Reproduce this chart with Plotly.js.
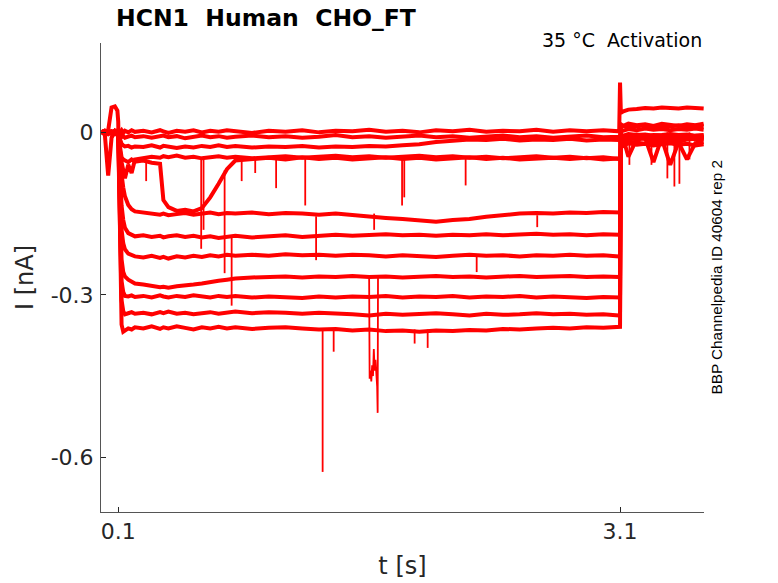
<!DOCTYPE html>
<html>
<head>
<meta charset="utf-8">
<script src="https://cdn.plot.ly/plotly-3.0.1.min.js"></script>
<style>
  html, body { margin: 0; padding: 0; background: #fff; }
  #plot { width: 778px; height: 583px; }
</style>
</head>
<body>
<div id="plot"></div>
<script>
// temps (s) commun a tous les sweeps
const tGrid = [0, 0.02, 0.04, 0.06, 0.08, 0.095, 0.1, 0.105, 0.11, 0.115,
  0.12, 0.13, 0.14, 0.16, 0.18, 0.2, 0.25, 0.3, 0.35, 0.37,
  0.4, 0.45, 0.5, 0.55, 0.6, 0.65, 0.7, 0.75, 0.8, 0.9,
  1.0, 1.1, 1.2, 1.3, 1.4, 1.5, 1.6, 1.7, 1.8, 1.9,
  2.0, 2.1, 2.2, 2.3, 2.4, 2.5, 2.6, 2.7, 2.8, 2.9,
  3.0, 3.095, 3.1, 3.105, 3.12, 3.15, 3.2, 3.25, 3.3, 3.35,
  3.4, 3.45, 3.5, 3.55, 3.6];

// courant (nA) de chaque sweep
const iT1 = [0.003, -0.002, 0.004, 0.046, 0.048, 0.040, 0.020, -0.100, -0.240, -0.320,
  -0.355, -0.368, -0.366, -0.362, -0.364, -0.360, -0.362, -0.358, -0.363, -0.360,
  -0.362, -0.358, -0.361, -0.364, -0.360, -0.362, -0.359, -0.362, -0.360, -0.363,
  -0.361, -0.360, -0.362, -0.364, -0.363, -0.366, -0.364, -0.367, -0.366, -0.368,
  -0.366, -0.367, -0.365, -0.366, -0.363, -0.364, -0.362, -0.361, -0.362, -0.360,
  -0.361, -0.359, -0.359, -0.005, -0.008, -0.006, -0.004, -0.007, -0.005, -0.006,
  -0.004, -0.006, -0.005, -0.007, -0.006];
const iT2 = [-0.002, 0.003, -0.001, 0.002, -0.003, 0.001, 0.000, -0.090, -0.200, -0.270,
  -0.310, -0.330, -0.336, -0.334, -0.332, -0.335, -0.333, -0.336, -0.332, -0.334,
  -0.331, -0.335, -0.333, -0.336, -0.334, -0.332, -0.335, -0.333, -0.331, -0.334,
  -0.332, -0.333, -0.335, -0.333, -0.334, -0.336, -0.338, -0.335, -0.337, -0.336,
  -0.334, -0.336, -0.338, -0.335, -0.337, -0.336, -0.334, -0.336, -0.335, -0.337,
  -0.336, -0.338, -0.338, -0.012, -0.015, -0.010, -0.013, -0.011, -0.014, -0.012,
  -0.060, -0.018, -0.013, -0.012, -0.013];
const iT3 = [0.001, -0.003, 0.002, -0.001, 0.003, -0.002, -0.001, -0.080, -0.180, -0.240,
  -0.275, -0.295, -0.302, -0.303, -0.301, -0.304, -0.302, -0.305, -0.301, -0.303,
  -0.305, -0.302, -0.304, -0.301, -0.303, -0.305, -0.302, -0.304, -0.302, -0.305,
  -0.303, -0.304, -0.306, -0.303, -0.305, -0.303, -0.304, -0.302, -0.305, -0.303,
  -0.304, -0.302, -0.305, -0.303, -0.304, -0.302, -0.305, -0.303, -0.304, -0.306,
  -0.304, -0.305, -0.305, -0.010, -0.012, -0.045, -0.012, -0.009, -0.011, -0.010,
  -0.012, -0.009, -0.011, -0.010, -0.012];
const iT4 = [-0.003, 0.002, -0.002, 0.001, -0.001, 0.003, 0.000, -0.060, -0.140, -0.200,
  -0.235, -0.258, -0.266, -0.272, -0.276, -0.279, -0.281, -0.284, -0.286, -0.285,
  -0.287, -0.284, -0.283, -0.281, -0.279, -0.276, -0.274, -0.272, -0.270, -0.268,
  -0.267, -0.266, -0.268, -0.266, -0.267, -0.265, -0.267, -0.266, -0.268, -0.266,
  -0.265, -0.267, -0.266, -0.268, -0.266, -0.265, -0.267, -0.266, -0.265, -0.267,
  -0.266, -0.267, -0.267, -0.004, -0.006, -0.003, -0.005, -0.004, -0.006, -0.005,
  -0.003, -0.005, -0.004, -0.006, -0.005];
const iT5 = [0.002, -0.001, 0.003, -0.002, 0.002, -0.001, 0.000, -0.045, -0.100, -0.150,
  -0.180, -0.205, -0.216, -0.224, -0.227, -0.229, -0.231, -0.228, -0.232, -0.230,
  -0.233, -0.229, -0.231, -0.228, -0.230, -0.227, -0.229, -0.226, -0.228, -0.226,
  -0.228, -0.225, -0.227, -0.226, -0.228, -0.226, -0.227, -0.229, -0.227, -0.228,
  -0.230, -0.228, -0.226, -0.228, -0.227, -0.229, -0.227, -0.228, -0.226, -0.228,
  -0.227, -0.229, -0.229, -0.008, -0.010, -0.007, -0.009, -0.010, -0.055, -0.009,
  -0.008, -0.010, -0.009, -0.007, -0.009];
const iT6 = [-0.001, 0.002, -0.003, 0.001, -0.002, 0.002, 0.000, -0.035, -0.075, -0.110,
  -0.135, -0.162, -0.176, -0.186, -0.190, -0.192, -0.190, -0.193, -0.191, -0.194,
  -0.192, -0.190, -0.193, -0.191, -0.194, -0.192, -0.195, -0.193, -0.191, -0.194,
  -0.192, -0.190, -0.193, -0.191, -0.189, -0.191, -0.190, -0.188, -0.190, -0.189,
  -0.191, -0.189, -0.190, -0.188, -0.190, -0.189, -0.187, -0.189, -0.188, -0.190,
  -0.188, -0.189, -0.189, 0.005, 0.003, 0.006, 0.004, 0.007, 0.005, 0.006,
  0.004, 0.006, 0.005, 0.007, 0.005];
const iT7 = [0.001, 0.003, -0.002, 0.002, 0.000, -0.002, -0.003, -0.020, -0.042, -0.062,
  -0.078, -0.102, -0.118, -0.134, -0.142, -0.146, -0.148, -0.150, -0.152, -0.150,
  -0.153, -0.151, -0.149, -0.152, -0.150, -0.148, -0.151, -0.149, -0.150, -0.148,
  -0.151, -0.149, -0.150, -0.152, -0.150, -0.153, -0.155, -0.158, -0.160, -0.163,
  -0.165, -0.162, -0.160, -0.156, -0.153, -0.150, -0.149, -0.150, -0.148, -0.149,
  -0.147, -0.148, -0.148, 0.010, 0.012, 0.009, 0.011, 0.013, 0.010, 0.012,
  0.011, 0.013, 0.010, 0.012, 0.011];
const iT8 = [0.000, -0.003, 0.002, -0.002, 0.003, 0.000, -0.002, -0.015, -0.030, -0.040,
  -0.046, -0.050, -0.052, -0.055, -0.050, -0.054, -0.052, -0.056, -0.058, -0.125,
  -0.138, -0.145, -0.143, -0.146, -0.140, -0.120, -0.095, -0.068, -0.052, -0.050,
  -0.047, -0.050, -0.046, -0.049, -0.047, -0.050, -0.048, -0.046, -0.049, -0.047,
  -0.050, -0.048, -0.046, -0.049, -0.047, -0.050, -0.048, -0.047, -0.049, -0.047,
  -0.050, -0.048, -0.048, -0.018, -0.020, -0.017, -0.019, -0.021, -0.018, -0.020,
  -0.017, -0.019, -0.050, -0.020, -0.018];
const iT9 = [0.002, -0.004, -0.080, -0.010, 0.002, -0.003, -0.005, -0.020, -0.035, -0.045,
  -0.055, -0.070, -0.085, -0.060, -0.075, -0.050, -0.048, -0.045, -0.047, -0.044,
  -0.046, -0.043, -0.047, -0.045, -0.048, -0.046, -0.044, -0.047, -0.045, -0.048,
  -0.046, -0.044, -0.047, -0.045, -0.043, -0.046, -0.044, -0.047, -0.045, -0.043,
  -0.046, -0.044, -0.047, -0.045, -0.048, -0.046, -0.044, -0.047, -0.045, -0.048,
  -0.046, -0.049, -0.049, -0.010, -0.013, -0.011, -0.009, -0.012, -0.010, -0.013,
  -0.011, -0.014, -0.012, -0.010, -0.011];
const iT10 = [0.001, -0.002, 0.003, 0.000, -0.003, 0.002, 0.001, 0.003, -0.002, 0.002,
  0.004, -0.001, 0.003, 0.000, 0.004, 0.001, 0.003, 0.000, 0.004, 0.002,
  -0.001, 0.003, 0.001, 0.004, 0.000, 0.003, 0.001, 0.004, 0.002, -0.001,
  0.003, 0.001, 0.004, 0.000, 0.003, 0.002, 0.005, 0.001, 0.003, 0.000,
  0.004, 0.002, 0.005, 0.001, 0.003, 0.002, 0.005, 0.001, 0.004, 0.002,
  0.004, 0.002, 0.092, 0.036, 0.039, 0.042, 0.043, 0.045, 0.044, 0.046,
  0.045, 0.044, 0.046, 0.045, 0.044];
const iT11 = [-0.002, 0.002, -0.003, 0.001, -0.001, 0.003, 0.000, -0.004, -0.007, -0.006,
  -0.009, -0.007, -0.010, -0.008, -0.006, -0.009, -0.007, -0.010, -0.008, -0.006,
  -0.009, -0.007, -0.011, -0.008, -0.006, -0.009, -0.007, -0.010, -0.008, -0.006,
  -0.009, -0.007, -0.010, -0.008, -0.005, -0.009, -0.007, -0.010, -0.008, -0.006,
  -0.009, -0.007, -0.010, -0.008, -0.006, -0.009, -0.007, -0.010, -0.008, -0.006,
  -0.009, -0.008, -0.008, 0.015, 0.012, 0.016, 0.013, 0.015, 0.012, 0.016,
  0.014, 0.012, 0.015, 0.013, 0.016];
const iT12 = [0.003, -0.001, 0.001, -0.003, 0.002, -0.001, -0.002, -0.008, -0.014, -0.018,
  -0.021, -0.024, -0.026, -0.025, -0.028, -0.026, -0.027, -0.024, -0.028, -0.025,
  -0.027, -0.029, -0.026, -0.028, -0.025, -0.027, -0.024, -0.027, -0.025, -0.028,
  -0.026, -0.027, -0.025, -0.028, -0.026, -0.027, -0.025, -0.026, -0.024, -0.022,
  -0.018, -0.015, -0.013, -0.014, -0.012, -0.015, -0.013, -0.014, -0.012, -0.015,
  -0.013, -0.014, -0.014, -0.022, -0.025, -0.020, -0.023, -0.021, -0.024, -0.022,
  -0.020, -0.023, -0.021, -0.024, -0.022];

// pics brefs : instant, courant de depart, courant au bout du pic
const spikeT    = [0.267, 0.596, 0.610, 0.736, 0.778, 0.838, 0.919, 1.044, 1.218, 1.283, 1.322, 1.388, 1.630,
  1.797, 1.810, 1.872, 1.950, 2.177, 2.243, 2.605, 3.156, 3.288, 3.383, 3.425, 3.455, 3.515];
const spikeFrom = [-0.050, -0.050, -0.050, -0.070, -0.190, -0.047, -0.047, -0.047, -0.046, -0.155, -0.362, -0.362, -0.150,
  -0.047, -0.047, -0.364, -0.364, -0.047, -0.230, -0.153, -0.010, -0.010, 0.000, -0.010, -0.010, 0.000];
const spikeTo   = [-0.090, -0.215, -0.180, -0.260, -0.320, -0.090, -0.075, -0.103, -0.135, -0.236, -0.627, -0.405, -0.180,
  -0.135, -0.120, -0.390, -0.398, -0.098, -0.258, -0.175, -0.060, -0.060, -0.085, -0.100, -0.095, -0.050];

// decrochage du sweep 4 vers 1.6 s
const dipT = [1.600, 1.603, 1.608, 1.613, 1.618, 1.623, 1.628, 1.633, 1.638, 1.643, 1.648, 1.651, 1.653];
const dipI = [-0.268, -0.455, -0.440, -0.460, -0.430, -0.450, -0.400, -0.440, -0.420, -0.450, -0.470, -0.518, -0.268];

const sweeps = [iT1, iT2, iT3, iT4, iT5, iT6, iT7, iT8, iT9, iT10, iT11, iT12];

const red = 'rgb(255,0,0)';
const ink = '#262626';
const font = 'DejaVu Sans, sans-serif';

let data = sweeps.map(s => ({
  x: tGrid, y: s, mode: 'lines', line: { color: red, width: 4 }, hoverinfo: 'skip'
}));

let sx = [], sy = [];
for (let i = 0; i < spikeT.length; i++) {
  sx.push(spikeT[i], spikeT[i], null);
  sy.push(spikeFrom[i], spikeTo[i], null);
}
data.push({ x: sx, y: sy, mode: 'lines', line: { color: red, width: 1.8 }, hoverinfo: 'skip' });
data.push({ x: dipT, y: dipI, mode: 'lines', line: { color: red, width: 1.8 }, hoverinfo: 'skip' });

const nb = s => s.replace(/ /g, '\u00a0');

let layout = {
  width: 778, height: 583,
  margin: { l: 101, r: 73.5, t: 43, b: 71, pad: 0 },
  paper_bgcolor: '#fff', plot_bgcolor: '#fff',
  showlegend: false,
  font: { family: font, color: ink },
  xaxis: {
    range: [-0.003, 3.602], tickvals: [0.1, 3.1], ticktext: ['0.1', '3.1'],
    ticks: 'inside', ticklen: 5, tickcolor: ink, tickwidth: 1,
    showline: true, linecolor: '#555', linewidth: 1,
    showgrid: false, zeroline: false,
    tickfont: { family: font, size: 22, color: ink },
    title: { text: 't [s]', font: { family: font, size: 24, color: ink }, standoff: 13 }
  },
  yaxis: {
    range: [-0.701, 0.165], tickvals: [-0.6, -0.3, 0], ticktext: ['-0.6', '-0.3', '0'],
    ticks: 'inside', ticklen: 5, tickcolor: ink, tickwidth: 1,
    showline: true, linecolor: '#555', linewidth: 1,
    showgrid: false, zeroline: false, ticklabelstandoff: 2,
    tickfont: { family: font, size: 22, color: ink },
    title: { text: 'I [nA]', font: { family: font, size: 24, color: ink }, standoff: 10 }
  },
  annotations: [
    { text: '<b>' + nb('HCN1  Human  CHO_FT') + '</b>', xref: 'paper', yref: 'paper',
      x: 0.021, y: 1.053, xanchor: 'left', yanchor: 'middle', showarrow: false,
      font: { family: font, size: 23.5, color: '#000' } },
    { text: nb('35 °C  Activation'), xref: 'paper', yref: 'paper',
      x: 1, y: 1.006, xanchor: 'right', yanchor: 'middle', showarrow: false,
      font: { family: font, size: 19, color: '#000' } },
    { text: 'BBP Channelpedia ID 40604 rep 2', xref: 'paper', yref: 'paper',
      x: 1.0207, y: 0.501, xanchor: 'center', yanchor: 'middle', textangle: -90, showarrow: false,
      font: { family: 'Liberation Sans, Arial, sans-serif', size: 15.3, color: '#000' } }
  ]
};

Plotly.newPlot('plot', data, layout, { staticPlot: true, displayModeBar: false });
</script>
</body>
</html>
